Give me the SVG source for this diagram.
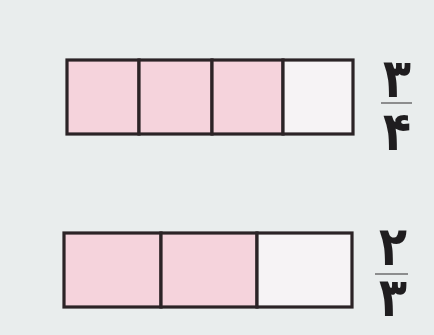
<svg xmlns="http://www.w3.org/2000/svg" width="434" height="335" viewBox="0 0 434 335">
<style>
.cell{stroke:#2b2326;stroke-width:3.2;stroke-linejoin:miter}
.pink{fill:#f5d3dc}
.white{fill:#f6f3f5}
.num{font-family:"DejaVu Sans","Noto Sans",sans-serif;font-size:54px;font-weight:bold;fill:#1f1d1f;text-anchor:middle}
.bar{stroke:#6d6c6e;stroke-width:1.5}
</style>
<rect width="434" height="335" fill="#e9eded"/>
<g id="bar-3-4">
<rect class="cell pink" x="67" y="60" width="72" height="74"/>
<rect class="cell pink" x="139" y="60" width="73" height="74"/>
<rect class="cell pink" x="212" y="60" width="71" height="74"/>
<rect class="cell white" x="283" y="60" width="70" height="74"/>
</g>
<g id="bar-2-3">
<rect class="cell pink" x="64" y="233" width="97" height="74"/>
<rect class="cell pink" x="161" y="233" width="96" height="74"/>
<rect class="cell white" x="257" y="233" width="95" height="74"/>
</g>
<g id="frac-3-4">
<text class="num" x="397" y="97" transform="translate(397 0) scale(0.85 1) translate(-397 0)">۳</text>
<line class="bar" x1="381" y1="103" x2="412" y2="103"/>
<text class="num" x="397" y="150" transform="translate(397 0) scale(0.85 1) translate(-397 0)">۴</text>
</g>
<g id="frac-2-3">
<text class="num" x="393" y="265" transform="translate(393 0) scale(0.85 1) translate(-393 0)">۲</text>
<line class="bar" x1="375" y1="274" x2="408" y2="274"/>
<text class="num" x="393" y="316" transform="translate(393 0) scale(0.85 1) translate(-393 0)">۳</text>
</g>
</svg>
